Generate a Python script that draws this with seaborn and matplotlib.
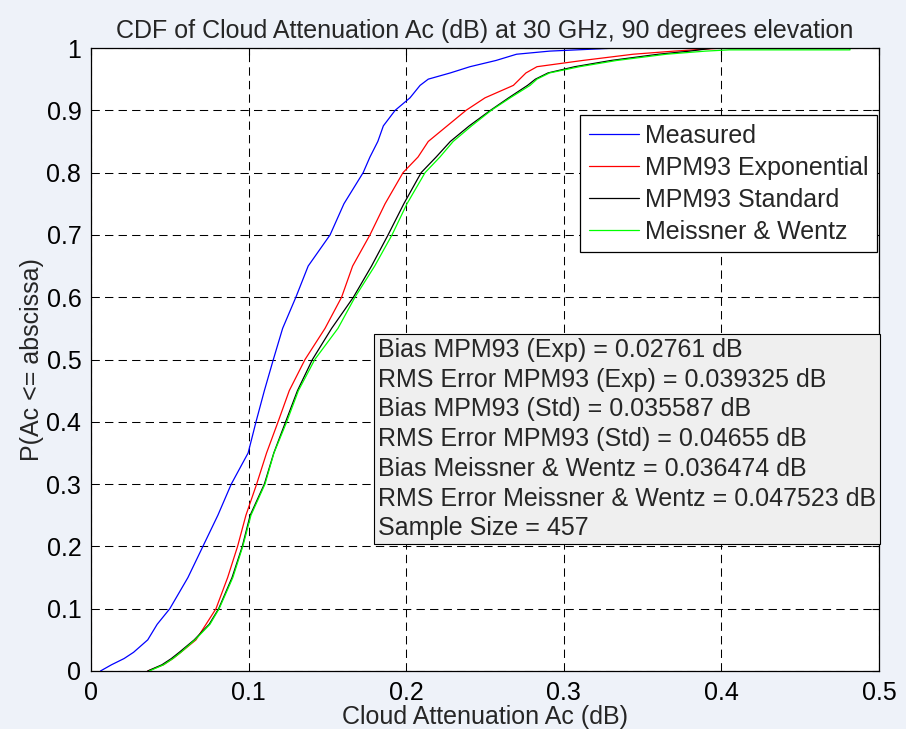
import numpy as np
import pandas as pd
import seaborn as sns
import matplotlib
matplotlib.use("Agg")
import matplotlib.pyplot as plt

# Cumulative probability levels and the attenuation (dB) read at each level
prob = [0, 0.01, 0.02, 0.03, 0.05, 0.075, 0.1, 0.15, 0.2, 0.25, 0.3, 0.35,
        0.4, 0.45, 0.5, 0.55, 0.6, 0.65, 0.7, 0.75, 0.8, 0.825, 0.85, 0.875,
        0.9, 0.92, 0.94, 0.95, 0.96, 0.97, 0.98, 0.99, 0.995, 1.0]

measured = [0.006, 0.013, 0.021, 0.027, 0.036, 0.042, 0.050, 0.0615, 0.071,
            0.0805, 0.089, 0.0997, 0.1047, 0.110, 0.1157, 0.1216, 0.130,
            0.1378, 0.1517, 0.1605, 0.1727, 0.177, 0.182, 0.1855, 0.193,
            0.2024, 0.2088, 0.214, 0.228, 0.2405, 0.257, 0.270, 0.291, 0.334]

mpm93_exp = [0.036, 0.046, 0.052, 0.057, 0.0666, 0.073, 0.0793, 0.0867,
             0.093, 0.0983, 0.1051, 0.1114, 0.1187, 0.1258, 0.1358, 0.1485,
             0.159, 0.166, 0.177, 0.1866, 0.198, 0.2075, 0.214, 0.226, 0.238,
             0.250, 0.268, 0.272, 0.276, 0.283, 0.312, 0.344, 0.370, 0.401]

mpm93_std = [0.036, 0.045, 0.051, 0.056, 0.0655, 0.075, 0.081, 0.0895, 0.096,
             0.101, 0.110, 0.116, 0.1235, 0.131, 0.1405, 0.1527, 0.1665,
             0.178, 0.1885, 0.1985, 0.2095, 0.219, 0.228, 0.240, 0.2535,
             0.265, 0.277, 0.282, 0.290, 0.307, 0.330, 0.360, 0.380, 0.395]

meissner_wentz = [0.037, 0.046, 0.052, 0.057, 0.066, 0.0755, 0.0813, 0.090,
                  0.0963, 0.1015, 0.1104, 0.1161, 0.1242, 0.1316, 0.142,
                  0.1567, 0.1675, 0.180, 0.191, 0.2005, 0.212, 0.2214, 0.2298,
                  0.2415, 0.254, 0.266, 0.2786, 0.283, 0.291, 0.310, 0.3336,
                  0.365, 0.390, 0.405]
# flat top of the Meissner & Wentz curve (last sample before reaching 1)
mw_tail_x = [0.405, 0.4816, 0.4816]
mw_tail_p = [0.997, 0.997, 1.0]

labels = ["Measured", "MPM93 Exponential", "MPM93 Standard", "Meissner & Wentz"]
colors = ["#0000ff", "#ff0000", "#000000", "#00ff00"]

stats_text = [
    "Bias MPM93 (Exp) = 0.02761 dB",
    "RMS Error MPM93 (Exp) = 0.039325 dB",
    "Bias MPM93 (Std) = 0.035587 dB",
    "RMS Error MPM93 (Std) = 0.04655 dB",
    "Bias Meissner & Wentz = 0.036474 dB",
    "RMS Error Meissner & Wentz = 0.047523 dB",
    "Sample Size = 457",
]

xticks = [0, 0.1, 0.2, 0.3, 0.4, 0.5]
xticklabels = ["0", "0.1", "0.2", "0.3", "0.4", "0.5"]
yticks = [0, 0.1, 0.2, 0.3, 0.4, 0.5, 0.6, 0.7, 0.8, 0.9, 1.0]
yticklabels = ["0", "0.1", "0.2", "0.3", "0.4", "0.5", "0.6", "0.7", "0.8", "0.9", "1"]

# Long-format frame for seaborn
frames = []
for name, xs in zip(labels, [measured, mpm93_exp, mpm93_std, meissner_wentz]):
    xs, ps = list(xs), list(prob)
    if name == labels[3]:
        xs, ps = xs[:-1] + mw_tail_x, ps[:-1] + mw_tail_p
    frames.append(pd.DataFrame({"Ac": xs, "P": ps, "Model": name}))
df = pd.concat(frames, ignore_index=True)

sns.set_theme(style="white")
plt.rcParams["font.family"] = ["Liberation Sans", "DejaVu Sans"]

fig = plt.figure(figsize=(9.06, 7.29), dpi=100, facecolor="#eef2f9")
ax = fig.add_axes([91 / 906, 1 - 671 / 729, 788 / 906, 623 / 729])
ax.set_facecolor("white")

sns.lineplot(data=df, x="Ac", y="P", hue="Model", hue_order=labels,
             palette=dict(zip(labels, colors)), sort=False, estimator=None,
             linewidth=0.9, legend=False, ax=ax)

ax.set_xlim(0, 0.5)
ax.set_ylim(0, 1)
ax.set_xticks(xticks)
ax.set_xticklabels(xticklabels)
ax.set_yticks(yticks)
ax.set_yticklabels(yticklabels)
ax.tick_params(direction="in", length=5, width=0.8, top=True, right=True,
               labelsize=18, pad=7, colors="black")
ax.grid(True, color="black", linestyle=(0, (8, 5)), linewidth=0.75)
for s in ax.spines.values():
    s.set_color("black")
    s.set_linewidth(0.9)

ax.set_title("CDF of Cloud Attenuation Ac (dB) at 30 GHz, 90 degrees elevation",
             fontsize=18, pad=7)
ax.set_xlabel("Cloud Attenuation Ac (dB)", fontsize=18, labelpad=0)
ax.set_ylabel("P(Ac <= abscissa)", fontsize=18, labelpad=2)

leg = ax.legend(ax.lines[:4], labels, loc="upper right",
                bbox_to_anchor=(0.9975, 0.8925), borderaxespad=0,
                fontsize=18, fancybox=False, framealpha=1, edgecolor="black",
                handlelength=2.0, handletextpad=0.25, borderpad=0.35,
                labelspacing=0.32)
leg.get_frame().set_linewidth(0.9)

ax.text(0.364, 0.5345, "\n".join(stats_text), transform=ax.transAxes,
        ha="left", va="top", fontsize=18, linespacing=1.3, zorder=5,
        bbox=dict(boxstyle="square,pad=0.15", facecolor="#efefef",
                  edgecolor="black", linewidth=0.8))

fig.savefig("out.png", dpi=100, facecolor=fig.get_facecolor())
